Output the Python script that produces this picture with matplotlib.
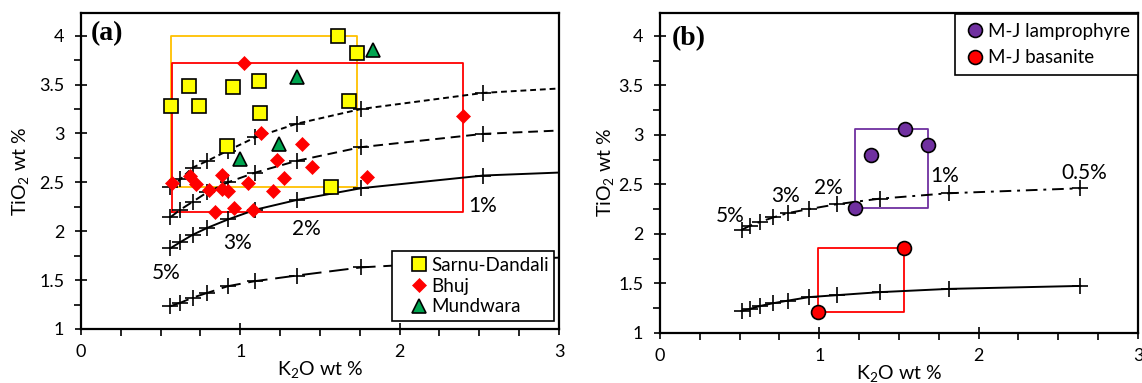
import numpy as np
import matplotlib
matplotlib.use("Agg")
import matplotlib.pyplot as plt
from matplotlib.ticker import MultipleLocator

plt.rcParams['font.family'] = ['Lato', 'DejaVu Sans']
plt.rcParams['mathtext.fontset'] = 'custom'
plt.rcParams['mathtext.rm'] = 'Lato'
plt.rcParams['mathtext.it'] = 'Lato:italic'

# ---- (a) sample data: K2O, TiO2 (wt %)
sd_k2o  = [1.616, 1.735, 0.679, 0.957, 1.120, 0.568, 0.738, 1.125, 1.683, 0.916, 1.568]
sd_tio2 = [4.00, 3.82, 3.49, 3.48, 3.54, 3.28, 3.28, 3.21, 3.33, 2.876, 2.45]

bhuj_k2o  = [1.024, 1.127, 1.384, 1.230, 1.453, 0.686, 0.886, 1.273, 1.794, 0.573,
             0.719, 1.048, 0.805, 0.888, 0.924, 1.204, 0.840, 0.960, 1.079, 2.400]
bhuj_tio2 = [3.72, 3.00, 2.89, 2.73, 2.66, 2.56, 2.58, 2.54, 2.55, 2.49,
             2.48, 2.49, 2.42, 2.43, 2.41, 2.41, 2.20, 2.24, 2.22, 3.18]

mund_k2o  = [1.83, 1.357, 1.24, 1.00]
mund_tio2 = [3.85, 3.58, 2.89, 2.74]

# ---- (a) melting curves (5% ... 1%, last point is the line end at the frame)
melt_k2o_a = [0.561, 0.623, 0.700, 0.794, 0.922, 1.094, 1.355, 1.758, 2.526, 3.0]
melt_tio2_a1 = [2.45, 2.53, 2.65, 2.72, 2.825, 2.96, 3.10, 3.25, 3.415, 3.46]
melt_tio2_a2 = [2.143, 2.22, 2.30, 2.40, 2.50, 2.60, 2.72, 2.86, 2.996, 3.03]
melt_tio2_a3 = [1.826, 1.888, 1.963, 2.035, 2.12, 2.22, 2.32, 2.44, 2.57, 2.60]
melt_tio2_a4 = [1.233, 1.268, 1.32, 1.37, 1.438, 1.49, 1.547, 1.63, 1.70, 1.73]
melt_labels_a = ['5%', '3%', '2%', '1%']

# ---- (b) sample data
lamp_k2o  = [1.327, 1.536, 1.682, 1.223]
lamp_tio2 = [2.80, 3.06, 2.90, 2.26]
bas_k2o   = [0.993, 1.532]
bas_tio2  = [1.207, 1.855]

# ---- (b) melting curves (5% ... 0.5%)
melt_k2o_b = [0.512, 0.564, 0.627, 0.710, 0.805, 0.936, 1.114, 1.379, 1.812, 2.638]
melt_tio2_b1 = [2.04, 2.08, 2.12, 2.165, 2.21, 2.25, 2.30, 2.355, 2.41, 2.46]
melt_tio2_b2 = [1.22, 1.24, 1.27, 1.298, 1.325, 1.36, 1.38, 1.41, 1.443, 1.473]
melt_labels_b = ['5%', '3%', '2%', '1%', '0.5%']

YELLOW = '#FFFF00'
ORANGE = '#FFC000'
RED = '#FF0000'
GREEN = '#00A550'
PURPLE = '#7030A0'


def range_box(ax, xs, ys, color):
    # rectangle spanning the min/max of a data group
    x0, x1 = min(xs), max(xs)
    y0, y1 = min(ys), max(ys)
    ax.plot([x0, x1, x1, x0, x0], [y0, y0, y1, y1, y0], color=color, lw=1.3, zorder=2)


def melt_curve(ax, xs, ys, ls, markevery=None):
    ax.plot(xs, ys, color='black', ls=ls, lw=1.4, marker='+', ms=11, mew=1.2,
            markevery=markevery, zorder=3)


def style_axes(ax, ylab_x):
    ax.set_xlim(0, 3)
    ax.set_ylim(1, 4.235)
    ax.xaxis.set_major_locator(MultipleLocator(1))
    ax.xaxis.set_minor_locator(MultipleLocator(0.25))
    ax.yaxis.set_minor_locator(MultipleLocator(0.25))
    ax.set_yticks([1, 1.5, 2, 2.5, 3, 3.5, 4])
    ax.set_yticklabels(['1', '1.5', '2', '2.5', '3', '3.5', '4'])
    ax.tick_params(axis='both', which='major', direction='inout', length=8, width=1.2,
                   labelsize=13, colors='black')
    ax.tick_params(axis='both', which='minor', direction='out', length=5, width=1.2)
    ax.tick_params(axis='x', which='major', pad=7)
    ax.tick_params(axis='y', which='major', pad=8)
    for s in ax.spines.values():
        s.set_linewidth(1.6)
    ax.set_xlabel('K$_2$O wt %', fontsize=14)
    ax.set_ylabel('TiO$_2$ wt %', fontsize=14)
    ax.xaxis.set_label_coords(0.5, -0.095)
    ax.yaxis.set_label_coords(ylab_x, 0.5)


fig = plt.figure(figsize=(11.42, 3.83), dpi=100)
ax1 = fig.add_axes([0.0709, 0.141, 0.4186, 0.8258])
ax2 = fig.add_axes([0.5779, 0.1313, 0.4186, 0.8355])

# ---------------- panel (a)
melt_curve(ax1, melt_k2o_a, melt_tio2_a1, (0, (3, 2)), markevery=list(range(9)))
melt_curve(ax1, melt_k2o_a, melt_tio2_a2, (0, (5, 3)), markevery=list(range(9)))
melt_curve(ax1, melt_k2o_a, melt_tio2_a3, '-', markevery=list(range(9)))
melt_curve(ax1, melt_k2o_a, melt_tio2_a4, (0, (10, 4)), markevery=list(range(9)))

range_box(ax1, sd_k2o, sd_tio2, ORANGE)
range_box(ax1, bhuj_k2o, bhuj_tio2, RED)

ax1.plot(sd_k2o, sd_tio2, ls='none', marker='s', ms=9.5, mfc=YELLOW, mec='black', mew=1.2,
         zorder=5, label='Sarnu-Dandali')
ax1.plot(bhuj_k2o, bhuj_tio2, ls='none', marker='D', ms=7.5, mfc=RED, mec=RED, mew=0.5,
         zorder=5, label='Bhuj')
ax1.plot(mund_k2o, mund_tio2, ls='none', marker='^', ms=9.5, mfc=GREEN, mec='black', mew=1.2,
         zorder=5, label='Mundwara')

pos_a = [(0.533, 1.57), (0.983, 1.88), (1.414, 2.02), (2.52, 2.26)]
for lab, (px, py) in zip(melt_labels_a, pos_a):
    ax1.text(px, py, lab, fontsize=15, ha='center', va='center')

ax1.text(0.02, 0.935, '(a)', transform=ax1.transAxes, fontsize=20, fontweight='bold',
         family='Liberation Serif', ha='left', va='center')

leg1 = ax1.legend(loc='lower right', bbox_to_anchor=(0.99, 0.025), fontsize=13.5,
                  frameon=True, fancybox=False, edgecolor='black', framealpha=1,
                  handlelength=2.3, handletextpad=-0.5, borderpad=0.3, labelspacing=0.2,
                  borderaxespad=0)
leg1.get_frame().set_linewidth(1.2)
leg1.set_zorder(10)
style_axes(ax1, -0.105)

# ---------------- panel (b)
melt_curve(ax2, melt_k2o_b, melt_tio2_b1, (0, (6, 3, 1.5, 3)))
melt_curve(ax2, melt_k2o_b, melt_tio2_b2, '-')

range_box(ax2, lamp_k2o, lamp_tio2, PURPLE)
range_box(ax2, bas_k2o, bas_tio2, RED)

ax2.plot(lamp_k2o, lamp_tio2, ls='none', marker='o', ms=10, mfc=PURPLE, mec='black', mew=1.2,
         zorder=5, label='M-J lamprophyre')
ax2.plot(bas_k2o, bas_tio2, ls='none', marker='o', ms=10, mfc=RED, mec='black', mew=1.2,
         zorder=5, label='M-J basanite')

pos_b = [(0.44, 2.175), (0.79, 2.38), (1.06, 2.46), (1.787, 2.58), (2.66, 2.61)]
for lab, (px, py) in zip(melt_labels_b, pos_b):
    ax2.text(px, py, lab, fontsize=15, ha='center', va='center')

ax2.text(0.025, 0.92, '(b)', transform=ax2.transAxes, fontsize=20, fontweight='bold',
         family='Liberation Serif', ha='left', va='center')

leg2 = ax2.legend(loc='upper right', bbox_to_anchor=(1.0, 0.995), fontsize=13.5,
                  frameon=True, fancybox=False, edgecolor='black', framealpha=1,
                  handlelength=1.3, handletextpad=0.0, borderpad=0.45, labelspacing=0.5,
                  borderaxespad=0)
leg2.get_frame().set_linewidth(1.2)
style_axes(ax2, -0.092)

fig.savefig('out.png', dpi=100)
